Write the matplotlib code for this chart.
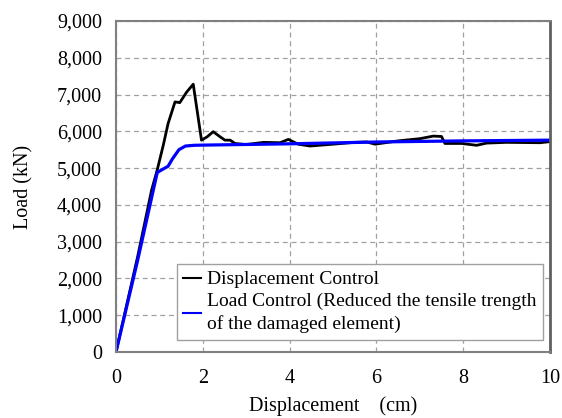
import matplotlib
matplotlib.use("Agg")
import matplotlib.pyplot as plt
from matplotlib.ticker import FuncFormatter

plt.rcParams['font.family'] = ['Liberation Serif', 'DejaVu Serif']

disp_x = [0, 0.5, 0.82, 0.95, 1.09, 1.2, 1.36, 1.47, 1.63, 1.78, 1.97, 2.1, 2.24, 2.4, 2.51, 2.63, 2.74,
          3.0, 3.4, 3.78, 3.97, 4.2, 4.47, 5.0, 5.5, 5.78, 5.97, 6.5, 7.0, 7.31, 7.5, 7.58, 7.96,
          8.31, 8.54, 9.0, 9.77, 10.0]
disp_y = [0, 2600, 4400, 4950, 5625, 6210, 6800, 6780, 7070, 7280, 5760, 5850, 5990, 5850, 5760, 5760, 5670,
          5640, 5700, 5690, 5780, 5650, 5600, 5650, 5700, 5710, 5650, 5740, 5800, 5870, 5860, 5670, 5670,
          5620, 5680, 5700, 5690, 5720]

load_x = [0, 0.5, 0.95, 1.05, 1.2, 1.3, 1.45, 1.6, 1.8, 2.0, 4.0, 6.0, 8.0, 10.0]
load_y = [0, 2500, 4880, 4950, 5050, 5250, 5500, 5600, 5620, 5625, 5660, 5710, 5740, 5760]

xticks = [0, 2, 4, 6, 8, 10]
yticks = list(range(0, 9001, 1000))

FS = 14.5

fig = plt.figure(figsize=(5.62, 4.18), dpi=100)
ax = fig.add_axes([0.2064, 0.1579, 0.7722, 0.7919])

ax.plot(disp_x, disp_y, color='black', lw=2.0, label='Displacement Control')
ax.plot(load_x, load_y, color='#0000ff', lw=2.3, label='Load Control (Reduced the tensile trength\nof the damaged element)')

ax.set_xlim(0, 10)
ax.set_ylim(0, 9000)
ax.set_xticks(xticks)
ax.set_yticks(yticks)
ax.yaxis.set_major_formatter(FuncFormatter(lambda v, p: f"{int(v):,}"))
ax.tick_params(axis='x', length=0, labelsize=FS, pad=12)
ax.tick_params(axis='y', length=0, labelsize=FS, pad=10)
ax.grid(True, color='#a0a0a0', linestyle=(0, (4, 3)), lw=0.9)
for s in ax.spines.values():
    s.set_color('#808080')
    s.set_linewidth(1.5)
ax.spines['right'].set_color('#606060')
ax.spines['right'].set_linewidth(2)

ax.set_xlabel('Displacement    (cm)', fontsize=FS, labelpad=6)
ax.set_ylabel('Load (kN)', fontsize=FS, labelpad=17)

leg = ax.legend(loc='lower right', bbox_to_anchor=(0.984, 0.036), fontsize=14, handlelength=0.9,
                handletextpad=0.3, borderpad=0.35, labelspacing=0.25, borderaxespad=0,
                fancybox=False, framealpha=1, edgecolor='#a0a0a0')
leg.get_frame().set_linewidth(1.0)
for t in leg.get_texts():
    t.set_linespacing(1.35)
for line in leg.get_lines():
    line.set_linewidth(1.5)

fig.savefig('out.png', dpi=100)
